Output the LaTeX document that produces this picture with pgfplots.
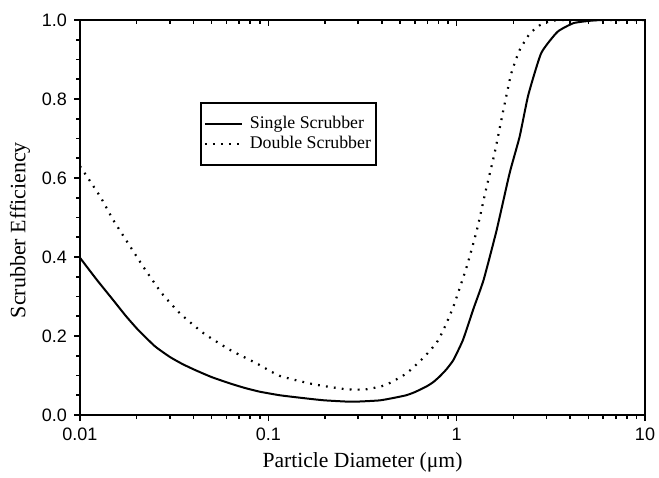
\documentclass[border=0pt]{standalone}
\usepackage{fontspec}
\setmainfont{Liberation Serif}
\newfontfamily\arialfont{Liberation Sans}
\usepackage{pgfplots}
\pgfplotsset{compat=1.18}
\pgfplotstableread{
d e
0.010 0.398
0.01225 0.343
0.015 0.291
0.0175 0.251
0.0204 0.215
0.025 0.174
0.030 0.147
0.035 0.129
0.0408 0.114
0.050 0.096
0.0625 0.080
0.075 0.0685
0.090 0.059
0.115 0.050
0.140 0.045
0.173 0.040
0.200 0.037
0.26 0.034
0.30 0.034
0.39 0.037
0.46 0.043
0.54 0.050
0.60 0.058
0.69 0.072
0.75 0.083
0.81 0.097
0.88 0.115
0.96 0.139
1.08 0.190
1.23 0.270
1.39 0.342
1.63 0.468
1.91 0.612
2.16 0.705
2.40 0.810
2.81 0.916
3.43 0.970
4.17 0.992
5.1 0.998
6.0 1.0
10 1.0
}\single
\pgfplotstableread{
d e
0.010 0.630
0.0128 0.553
0.0150 0.494
0.0180 0.435
0.0217 0.375
0.0272 0.308
0.0340 0.257
0.0453 0.207
0.0625 0.165
0.0864 0.131
0.115 0.099
0.173 0.078
0.26 0.065
0.33 0.065
0.42 0.076
0.54 0.105
0.66 0.143
0.78 0.182
0.85 0.215
0.96 0.274
1.13 0.375
1.28 0.468
1.43 0.570
1.59 0.663
1.77 0.772
1.95 0.865
2.16 0.924
2.45 0.966
2.77 0.987
3.1 0.996
3.6 1.0
10 1.0
}\double
\begin{document}
\begin{tikzpicture}
\path[use as bounding box] (-40pt,-31pt) rectangle (289.5pt,207.5pt);
\begin{axis}[
  at={(0,0)}, anchor=south west,
  scale only axis, width=282.5pt, height=197.5pt,
  xmode=log, xmin=0.01, xmax=10, ymin=0, ymax=1,
  axis line style={line width=0.9pt},
  xtick={0.01,0.1,1,10}, xticklabels={0.01,0.1,1,10},
  minor xtick={0.02,0.03,0.04,0.05,0.06,0.07,0.08,0.09,0.2,0.3,0.4,0.5,0.6,0.7,0.8,0.9,2,3,4,5,6,7,8,9},
  ytick={0,0.2,0.4,0.6,0.8,1.0}, minor y tick num=3,
  xtick pos=left, ytick pos=left, tick align=outside,
  major tick length=3pt, minor tick length=2pt,
  tick style={line width=0.8pt, black},
  xticklabel style={font=\arialfont\fontsize{9}{10}\selectfont},
  yticklabel style={font=\arialfont\fontsize{9}{10}\selectfont, /pgf/number format/.cd, fixed, fixed zerofill, precision=1, assume math mode=true},
  xlabel={Particle Diameter (μm)},
  xlabel style={font=\fontsize{10.8}{13}\selectfont, at={(axis description cs:0.5,0)}, anchor=center, yshift=-23.5pt},
  ylabel={Scrubber Efficiency},
  ylabel style={font=\fontsize{11}{13}\selectfont, at={(axis description cs:0,0.468)}, anchor=center, yshift=30pt},
  legend style={at={(0.212,0.792)}, anchor=north west, draw=black, line width=0.9pt,
    inner xsep=1.5pt, inner ysep=5.5pt, font=\fontsize{8.9}{10}\selectfont, row sep=0pt,
    nodes={inner sep=1pt, text height=6pt, text depth=2pt},
    /tikz/every odd column/.append style={column sep=2.5pt}},
  legend cell align=left,
  legend image code/.code={\draw[#1] (3pt,0pt) -- (21.5pt,0pt);},
]
\addplot[black, line width=1pt, smooth, tension=0.3] table[x=d, y=e] {\single};
\addlegendentry{Single Scrubber}
\addplot[black, line width=1.1pt, dash pattern=on 0.9pt off 3.1pt, smooth, tension=0.3] table[x=d, y=e] {\double};
\addlegendentry{Double Scrubber}
\end{axis}
\begin{axis}[
  at={(0,0)}, anchor=south west,
  scale only axis, width=282.5pt, height=197.5pt,
  xmode=log, xmin=0.01, xmax=10, ymin=0, ymax=1,
  axis line style={line width=0.9pt},
  xtick={0.01,0.1,1,10}, xticklabels={},
  minor xtick={0.02,0.03,0.04,0.05,0.06,0.07,0.08,0.09,0.2,0.3,0.4,0.5,0.6,0.7,0.8,0.9,2,3,4,5,6,7,8,9},
  ytick=\empty, xtick pos=right, tick align=inside,
  major tick length=3pt, minor tick length=2pt,
  tick style={line width=0.8pt, black},
]
\end{axis}
\end{tikzpicture}
\end{document}
